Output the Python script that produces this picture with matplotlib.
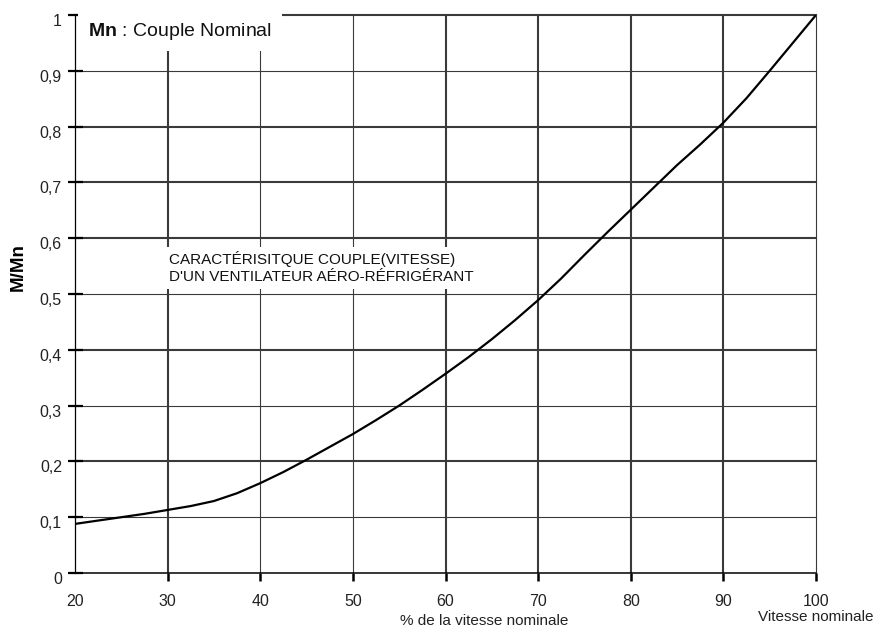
import matplotlib
matplotlib.use("Agg")
import matplotlib.pyplot as plt
import matplotlib.transforms as mtransforms

plt.rcParams['font.family'] = ['Liberation Sans', 'DejaVu Sans']
plt.rcParams['mathtext.fontset'] = 'custom'
plt.rcParams['mathtext.bf'] = 'Liberation Sans:bold'
plt.rcParams['mathtext.rm'] = 'Liberation Sans'

# torque / speed curve
speed = [20, 22.5, 25, 27.5, 30, 32.5, 35, 37.5, 40, 42.5, 45, 47.5, 50, 52.5, 55, 57.5,
         60, 62.5, 65, 67.5, 70, 72.5, 75, 77.5, 80, 82.5, 85, 87.5, 90, 92.5, 95, 97.5, 100]
torque = [0.088, 0.094, 0.100, 0.106, 0.113, 0.120, 0.129, 0.143, 0.161, 0.181, 0.203,
          0.226, 0.249, 0.274, 0.300, 0.328, 0.357, 0.387, 0.419, 0.453, 0.489, 0.528,
          0.570, 0.611, 0.651, 0.691, 0.731, 0.768, 0.807, 0.851, 0.900, 0.950, 1.000]

x_ticks = [20, 30, 40, 50, 60, 70, 80, 90, 100]
y_ticks = [0, 0.1, 0.2, 0.3, 0.4, 0.5, 0.6, 0.7, 0.8, 0.9, 1.0]
y_labels = ['0', '0,1', '0,2', '0,3', '0,4', '0,5', '0,6', '0,7', '0,8', '0,9', '1']
thick_x = [30, 60, 70, 80, 90]
thick_y = [0.2, 0.4, 0.6, 0.7, 0.8, 1.0]

fig = plt.figure(figsize=(8.74, 6.28), dpi=100)
ax = fig.add_axes([75/874, 55/628, 741/874, 558/628])
ax.set_xlim(20, 100)
ax.set_ylim(0, 1)

grid_col = '#3a3a3a'
for v in x_ticks[1:-1]:
    ax.axvline(v, color=grid_col, lw=1.5 if v in thick_x else 0.8, zorder=1)
for v in y_ticks[1:]:
    ax.axhline(v, color=grid_col, lw=1.5 if v in thick_y else 0.8, zorder=1, clip_on=False)

ax.spines['top'].set_visible(False)
ax.spines['left'].set_color('black')
ax.spines['left'].set_linewidth(0.9)
ax.spines['bottom'].set_color('black')
ax.spines['bottom'].set_linewidth(1.1)
ax.spines['right'].set_color(grid_col)
ax.spines['right'].set_linewidth(0.8)

ax.plot(speed, torque, color='black', lw=1.6, zorder=3)

ax.set_xticks(x_ticks)
ax.set_xticklabels([str(v) for v in x_ticks])
ax.set_yticks(y_ticks)
ax.set_yticklabels(y_labels)
ax.tick_params(axis='x', direction='out', length=5.8, width=1.8, color='black',
               pad=9, labelsize=11.5, labelcolor='#222222')
ax.tick_params(axis='y', direction='inout', length=10.8, width=1.6, color='black',
               pad=4, labelsize=11.5, labelcolor='#222222')
ax.xaxis.get_major_ticks()[0].tick1line.set_visible(False)

shift = mtransforms.ScaledTranslation(0, -5/100, fig.dpi_scale_trans)
for lab in ax.get_yticklabels():
    lab.set_transform(lab.get_transform() + shift)

# note top left
ax.text(21.4, 0.971, r'$\mathbf{Mn}$ : Couple Nominal', fontsize=14, va='center',
        color='#111111', zorder=4,
        bbox=dict(facecolor='white', edgecolor='none', pad=7))

ax.text(30.15, 0.547, "CARACTÉRISITQUE COUPLE(VITESSE)\nD'UN VENTILATEUR AÉRO-RÉFRIGÉRANT",
        fontsize=11, va='center', ha='left', color='#111111', linespacing=1.3, zorder=4,
        bbox=dict(facecolor='white', edgecolor='none', pad=3))

fig.text(18/874, 1 - 267/628, 'M/Mn', rotation=90, fontsize=13.5, fontweight='bold',
         ha='center', va='center')
fig.text(484/874, 1 - 621/628, '% de la vitesse nominale', fontsize=11,
         ha='center', va='center', color='#222222')
fig.text(873/874, 1 - 617/628, 'Vitesse nominale', fontsize=11,
         ha='right', va='center', color='#222222')

fig.savefig('out.png', dpi=100)
